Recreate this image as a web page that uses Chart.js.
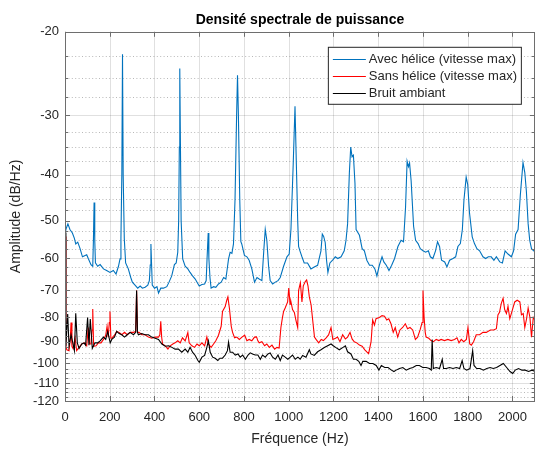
<!DOCTYPE html>
<html>
<head>
<meta charset="utf-8">
<script src="https://cdn.jsdelivr.net/npm/chart.js@4/dist/chart.umd.min.js"></script>
<style>
  html, body { margin: 0; padding: 0; background: #fff; }
</style>
</head>
<body>
<canvas id="myChart" width="536" height="449"></canvas>
<script>
// spectrum: frequency (Hz) / level (dB/Hz)
const blueF = [0, 5, 13, 22, 33, 42, 48, 57, 67, 78, 90, 97, 104, 116, 124, 127, 130, 133, 136, 146, 157, 172, 186, 201, 216, 228, 239, 246, 250, 254, 257, 260, 265, 271, 283, 294, 301, 313, 325, 336, 346, 358, 370, 377, 381, 384, 387, 390, 400, 411, 418, 428, 440, 455, 465, 477, 489, 497, 504, 508, 511, 513, 516, 519, 526, 537, 549, 559, 570, 582, 594, 600, 612, 624, 631, 635, 640, 643, 648, 653, 664, 674, 686, 698, 709, 719, 731, 738, 746, 753, 760, 767, 771, 775, 781, 786, 790, 802, 813, 823, 835, 847, 858, 868, 880, 889, 895, 902, 910, 917, 928, 940, 952, 962, 977, 992, 1002, 1010, 1020, 1028, 1034, 1040, 1044, 1050, 1059, 1069, 1084, 1099, 1114, 1129, 1144, 1150, 1156, 1163, 1169, 1175, 1184, 1196, 1208, 1219, 1234, 1248, 1256, 1263, 1271, 1277, 1283, 1289, 1296, 1301, 1316, 1328, 1338, 1349, 1361, 1373, 1385, 1394, 1405, 1417, 1425, 1436, 1448, 1460, 1473, 1488, 1502, 1513, 1522, 1529, 1535, 1540, 1547, 1558, 1567, 1578, 1588, 1600, 1612, 1624, 1633, 1644, 1656, 1665, 1674, 1683, 1697, 1707, 1719, 1734, 1746, 1756, 1767, 1776, 1783, 1793, 1800, 1808, 1820, 1830, 1841, 1853, 1868, 1880, 1892, 1905, 1917, 1928, 1943, 1955, 1967, 1980, 1995, 2005, 2014, 2025, 2035, 2047, 2055, 2062, 2070, 2077, 2085, 2095, 2104];
const blueDb = [-53.5, -52, -50.8, -52.2, -53.1, -54.5, -56, -55.5, -57.2, -59.6, -59.2, -59, -60.1, -61.9, -62.4, -55, -45.8, -55, -61.4, -62.4, -61.9, -63.2, -63.7, -64.3, -63.7, -64.8, -62.4, -60.2, -54.6, -40, -22.3, -40, -54.6, -61.4, -63.2, -65.9, -67.4, -68.4, -69.4, -68.7, -69.4, -69.1, -68.4, -66.9, -62, -56, -62, -68.4, -69.4, -68.9, -71.1, -69.4, -69.4, -68.9, -67.4, -65.4, -61.9, -61.4, -58.3, -50, -35, -23.9, -35, -50, -60.2, -62.4, -63.2, -64.3, -65.4, -66.4, -67.9, -68.7, -68.2, -68, -66.9, -60, -53.1, -60, -66, -69.4, -68.9, -69.1, -68, -67.4, -65.9, -66.4, -60.2, -58.3, -58.6, -56, -45, -30, -24.7, -30, -45, -55.4, -56, -59.2, -59.6, -60.6, -63.2, -67.4, -65.9, -66.4, -66.9, -57.3, -52.2, -55, -62.4, -66.9, -68, -67.4, -66.9, -65.9, -62.4, -59.6, -58.8, -52, -38, -28.7, -38, -50, -56.7, -57.9, -59.6, -61.4, -61.4, -63.2, -62.6, -62.1, -57.9, -53.4, -54, -55.6, -60.6, -64.3, -61.4, -60.6, -59.6, -60.1, -59.6, -57.9, -55, -50.8, -39.6, -35, -36.7, -36.4, -41.7, -52.2, -53.7, -57.3, -57.9, -60.6, -62.1, -62.1, -63.2, -65.4, -62.1, -59.6, -61.1, -62.1, -63.7, -62.1, -60.1, -56.7, -55, -55.4, -46.9, -37.5, -38.5, -37.8, -41.2, -51.4, -55, -55.9, -57.3, -57.9, -58.3, -57.9, -59.6, -60.1, -57.9, -55.4, -56.7, -60.6, -61.1, -62.6, -60.6, -60.1, -59.6, -56.7, -55.9, -52.2, -45.3, -40.5, -42, -48.2, -54.1, -55.9, -57.3, -57.9, -59.6, -60.1, -59.6, -59.6, -60.6, -59.6, -61.1, -61.4, -57.9, -58.8, -59.6, -57.9, -53.4, -52.2, -44.2, -37.7, -39.6, -43.3, -50.8, -55, -57.3, -57.9, -57.8];

const redF = [0, 4, 8, 18, 24, 27, 31, 36, 45, 52, 63, 75, 87, 97, 104, 110, 116, 121, 124, 128, 139, 149, 161, 172, 182, 188, 193, 198, 201, 205, 209, 221, 231, 242, 254, 266, 278, 291, 306, 316, 320, 324, 331, 343, 358, 373, 388, 403, 418, 424, 428, 432, 436, 448, 460, 470, 482, 492, 504, 515, 525, 537, 549, 555, 567, 579, 590, 600, 612, 624, 634, 641, 653, 664, 674, 686, 698, 704, 716, 723, 728, 735, 743, 749, 758, 768, 779, 791, 803, 813, 823, 835, 847, 856, 862, 868, 880, 892, 902, 913, 925, 937, 947, 957, 965, 972, 977, 984, 995, 1000, 1006, 1010, 1017, 1025, 1032, 1040, 1044, 1052, 1059, 1065, 1074, 1080, 1086, 1092, 1100, 1107, 1115, 1122, 1134, 1145, 1155, 1167, 1178, 1189, 1197, 1209, 1218, 1229, 1241, 1253, 1263, 1274, 1283, 1293, 1304, 1316, 1328, 1340, 1350, 1357, 1368, 1375, 1383, 1390, 1405, 1417, 1428, 1438, 1447, 1457, 1467, 1476, 1487, 1497, 1509, 1521, 1531, 1542, 1554, 1566, 1576, 1587, 1596, 1600, 1605, 1610, 1614, 1626, 1636, 1647, 1659, 1671, 1681, 1696, 1711, 1726, 1741, 1752, 1761, 1771, 1782, 1794, 1801, 1809, 1816, 1826, 1838, 1853, 1868, 1883, 1901, 1916, 1928, 1935, 1942, 1950, 1958, 1965, 1973, 1980, 1988, 2000, 2010, 2021, 2033, 2040, 2048, 2055, 2063, 2070, 2078, 2085, 2093, 2100];
const redDb = [-54, -92, -93.6, -94, -88, -82, -92, -93, -88.3, -94, -92.5, -91, -90.5, -91.8, -84, -91, -91, -85, -76.8, -92, -91.8, -90.5, -90.5, -89, -87.2, -83.5, -88, -82, -77.7, -88.5, -88.5, -87.2, -85.6, -86, -87, -86, -87, -86, -86, -85.6, -70.2, -86, -86, -87, -87, -88, -88.5, -88, -88, -87, -81.5, -88, -91, -91.8, -93.3, -91.8, -91, -90.5, -89.6, -90.5, -88.3, -89.6, -86.1, -90.5, -91.8, -92.5, -91, -91.8, -90.5, -91.8, -87.9, -91, -92.5, -91, -89.6, -87.2, -83.5, -77.7, -75.9, -73.6, -72.4, -76.6, -83.5, -86, -88.3, -88, -89, -88, -87.2, -89.6, -89, -89.6, -88, -87.9, -89.6, -90.5, -90, -91.8, -91, -92.5, -91.5, -93.3, -92.5, -92.8, -84, -80, -77.7, -76.4, -74.2, -69.4, -75, -74.2, -77, -78.1, -81, -84, -70.2, -67.6, -74.2, -68.6, -67.2, -66.7, -68.6, -72.4, -75.3, -81, -88, -89, -90.5, -89, -89.5, -88.3, -87.1, -84, -89, -88.5, -88, -90, -87, -88.8, -88, -86, -88.8, -90, -90.5, -91.5, -92, -93.6, -94.7, -95.4, -90, -81, -83, -80.5, -80, -79.3, -79.5, -81, -80.5, -82.5, -86, -84, -88, -85, -84, -82.5, -84.5, -84, -85, -89, -88, -85, -82, -70.2, -80, -86, -88, -88.5, -89.5, -90, -89, -89.5, -89, -89.5, -89, -89.5, -89, -88.3, -90.5, -89, -90, -89, -84, -91, -91.5, -90, -87, -87, -86, -86, -85, -85, -84.5, -79, -78, -74.7, -72.9, -77, -78.5, -75.8, -80.5, -77, -74.2, -73.6, -74.2, -79, -78.5, -84, -80.5, -76.4, -80, -88, -80, -81];

const blackF = [0, 4, 12, 18, 27, 35, 42, 48, 55, 63, 75, 85, 92, 101, 107, 113, 122, 134, 146, 157, 172, 182, 191, 202, 209, 221, 231, 242, 254, 266, 278, 291, 306, 316, 320, 324, 328, 343, 358, 373, 388, 403, 418, 433, 448, 463, 478, 492, 507, 522, 537, 549, 559, 570, 582, 594, 600, 612, 624, 634, 641, 649, 660, 671, 683, 693, 704, 716, 726, 731, 738, 749, 761, 773, 783, 794, 806, 818, 828, 838, 850, 862, 873, 883, 895, 907, 917, 928, 940, 952, 962, 972, 984, 996, 1007, 1017, 1029, 1041, 1051, 1062, 1077, 1092, 1099, 1114, 1129, 1144, 1159, 1174, 1189, 1199, 1211, 1226, 1241, 1253, 1263, 1278, 1289, 1301, 1313, 1323, 1331, 1346, 1361, 1376, 1391, 1403, 1414, 1429, 1444, 1459, 1470, 1480, 1495, 1510, 1525, 1540, 1555, 1570, 1584, 1599, 1614, 1629, 1637, 1641, 1646, 1659, 1674, 1686, 1692, 1704, 1719, 1734, 1749, 1764, 1775, 1783, 1795, 1810, 1822, 1828, 1840, 1855, 1870, 1885, 1900, 1914, 1929, 1944, 1959, 1974, 1989, 2001, 2012, 2027, 2042, 2057, 2072, 2087, 2102];
const blackDb = [-53, -92, -78.7, -92, -87, -90.5, -94, -78.4, -90.5, -93, -91, -90.5, -91.5, -80, -91.5, -80.6, -93, -90.5, -90.5, -89.6, -88, -89, -85.6, -90.5, -89, -88, -85.6, -86.5, -87, -88, -87, -86, -87, -86, -70.2, -86, -87, -86.5, -87, -87, -88, -88.5, -89, -91, -92, -91.8, -92.5, -93.3, -93.3, -94.7, -93.3, -94.7, -92.5, -94.7, -96.2, -98.6, -99.4, -97, -96.2, -92.5, -89.6, -94.7, -97, -97.5, -98.6, -97.5, -97.5, -96, -94, -90.2, -94.7, -94.7, -96, -95.5, -97, -96, -98, -96, -95, -95.5, -96, -96, -98, -96, -97, -95.5, -95, -97, -98, -96, -98.6, -96, -97, -98, -97, -96, -98, -97, -98, -96.2, -97, -93.6, -95.5, -96.2, -94.5, -93.6, -92.6, -91.8, -91, -91.8, -92.6, -93.6, -92.6, -91.8, -94.5, -95.5, -98, -98, -99, -101, -99, -99, -100, -100, -101, -103.3, -101, -102, -102, -103.3, -104, -103.3, -102.5, -102, -103.3, -102.5, -102, -101, -101, -102, -102, -102.5, -103.3, -89, -102.5, -102, -102.5, -98, -102.5, -102.5, -102, -102.5, -102, -102.5, -98.6, -102.5, -103.3, -102.5, -94, -101, -102.5, -102.5, -103.3, -102.5, -102, -102.5, -102, -101, -100, -102, -104, -105, -103.3, -102.5, -103.3, -103.3, -104, -103.3, -104];

const seriesNames = ["Avec hélice (vitesse max)", "Sans hélice (vitesse max)", "Bruit ambiant"];
const xTicks = [0, 200, 400, 600, 800, 1000, 1200, 1400, 1600, 1800, 2000];
const yTicks = [-20, -30, -40, -50, -60, -70, -80, -90, -100, -110, -120];

const axisColor = "#6e6e6e";
const textColor = "#262626";
Chart.defaults.font.family = "'Liberation Sans', Arial, Helvetica, sans-serif";

// the y axis is logarithmic on the magnitude of the dB values (as in the original figure)
const toPoints = (fs, dbs) => fs.map((f, i) => ({ x: f, y: -dbs[i] }));

const yMinor = [];
for (let v = 20; v <= 120; v += 2.5) {
  if (v % 10 !== 0) yMinor.push(v);
}

const gridAndBox = {
  id: "gridAndBox",
  beforeDatasetsDraw(chart) {
    const { ctx, chartArea: a, scales } = chart;
    const xs = scales.x, ys = scales.y;
    ctx.save();
    ctx.lineWidth = 1;
    // minor dotted lines
    ctx.strokeStyle = "rgba(0,0,0,0.28)";
    ctx.setLineDash([1, 2.4]);
    yMinor.forEach((v) => {
      const y = Math.round(ys.getPixelForValue(v)) + 0.5;
      ctx.beginPath();
      ctx.moveTo(a.left, y);
      ctx.lineTo(a.right, y);
      ctx.stroke();
    });
    ctx.setLineDash([]);
    ctx.strokeStyle = "rgba(0,0,0,0.12)";
    xTicks.forEach((v) => {
      const x = Math.round(xs.getPixelForValue(v)) + 0.5;
      ctx.beginPath();
      ctx.moveTo(x, a.top);
      ctx.lineTo(x, a.bottom);
      ctx.stroke();
    });
    yTicks.forEach((v) => {
      const y = Math.round(ys.getPixelForValue(-v)) + 0.5;
      ctx.beginPath();
      ctx.moveTo(a.left, y);
      ctx.lineTo(a.right, y);
      ctx.stroke();
    });
    ctx.restore();
  },
  afterDatasetsDraw(chart) {
    const { ctx, chartArea: a, scales } = chart;
    const xs = scales.x, ys = scales.y;
    ctx.save();
    ctx.strokeStyle = axisColor;
    ctx.lineWidth = 1;
    ctx.strokeRect(Math.round(a.left) + 0.5, Math.round(a.top) + 0.5, Math.round(a.right - a.left) - 1, Math.round(a.bottom - a.top));
    ctx.beginPath();
    xTicks.forEach((v) => {
      const x = Math.round(xs.getPixelForValue(v)) + 0.5;
      ctx.moveTo(x, a.bottom);
      ctx.lineTo(x, a.bottom - 5);
      ctx.moveTo(x, a.top);
      ctx.lineTo(x, a.top + 5);
    });
    yTicks.forEach((v) => {
      const y = Math.round(ys.getPixelForValue(-v)) + 0.5;
      ctx.moveTo(a.left, y);
      ctx.lineTo(a.left + 5, y);
      ctx.moveTo(a.right, y);
      ctx.lineTo(a.right - 5, y);
    });
    yMinor.forEach((v) => {
      const y = Math.round(ys.getPixelForValue(v)) + 0.5;
      ctx.moveTo(a.left, y);
      ctx.lineTo(a.left + 3, y);
      ctx.moveTo(a.right, y);
      ctx.lineTo(a.right - 3, y);
    });
    ctx.stroke();

    // legend, boxed in the upper right corner
    const bx = a.right - 207, by = a.top + 15, bw = 193, bh = 57;
    ctx.fillStyle = "#fff";
    ctx.fillRect(bx, by, bw, bh);
    ctx.strokeStyle = "#262626";
    ctx.strokeRect(bx + 0.5, by + 0.5, bw, bh);
    ctx.font = "13px 'Liberation Sans', Arial, sans-serif";
    ctx.textBaseline = "middle";
    ctx.textAlign = "left";
    chart.data.datasets.forEach((ds, i) => {
      const y = by + 12.5 + i * 17;
      ctx.strokeStyle = ds.borderColor;
      ctx.lineWidth = 1;
      ctx.beginPath();
      ctx.moveTo(bx + 5, Math.round(y) + 0.5);
      ctx.lineTo(bx + 38, Math.round(y) + 0.5);
      ctx.stroke();
      ctx.fillStyle = textColor;
      ctx.fillText(ds.label, bx + 41, y);
    });
    ctx.restore();
  },
};

const ctx = document.getElementById("myChart").getContext("2d");
const myChart = new Chart(ctx, {
  type: "line",
  data: {
    datasets: [
      { label: seriesNames[0], data: toPoints(blueF, blueDb), borderColor: "#0072BD", order: 3 },
      { label: seriesNames[1], data: toPoints(redF, redDb), borderColor: "#FF0000", order: 2 },
      { label: seriesNames[2], data: toPoints(blackF, blackDb), borderColor: "#000000", order: 1 },
    ],
  },
  options: {
    responsive: false,
    animation: false,
    devicePixelRatio: 1,
    layout: { padding: { left: 0, right: 1, top: 0, bottom: 0 } },
    elements: {
      point: { radius: 0 },
      line: { borderWidth: 1.1, tension: 0 },
    },
    plugins: {
      legend: { display: false },
      tooltip: { enabled: false },
      title: {
        display: true,
        text: "Densité spectrale de puissance",
        fullSize: false,
        color: "#000",
        font: { size: 14, weight: "bold" },
        padding: { top: 12, bottom: 3 },
      },
    },
    scales: {
      x: {
        type: "linear",
        min: 0,
        max: 2100,
        grid: { display: false, drawTicks: false },
        border: { display: false },
        afterBuildTicks: (scale) => {
          scale.ticks = xTicks.map((v) => ({ value: v }));
        },
        afterFit: (scale) => {
          scale.height = 48;
        },
        ticks: { autoSkip: false, maxRotation: 0, padding: 9, color: textColor, font: { size: 13 }, callback: (v) => String(v) },
        title: { display: true, text: "Fréquence (Hz)", color: textColor, font: { size: 14 }, padding: { top: 0, bottom: 1 } },
      },
      y: {
        type: "logarithmic",
        min: 20,
        max: 120,
        reverse: true,
        grid: { display: false, drawTicks: false },
        border: { display: false },
        afterBuildTicks: (scale) => {
          scale.ticks = yTicks.map((v) => ({ value: -v }));
        },
        afterFit: (scale) => {
          scale.width = 65;
        },
        ticks: { autoSkip: false, padding: 6, color: textColor, font: { size: 13 }, callback: (v) => "-" + v },
        title: { display: true, text: "Amplitude (dB/Hz)", color: textColor, font: { size: 14 }, padding: { top: 8, bottom: 0 } },
      },
    },
  },
  plugins: [gridAndBox],
});
</script>
</body>
</html>
